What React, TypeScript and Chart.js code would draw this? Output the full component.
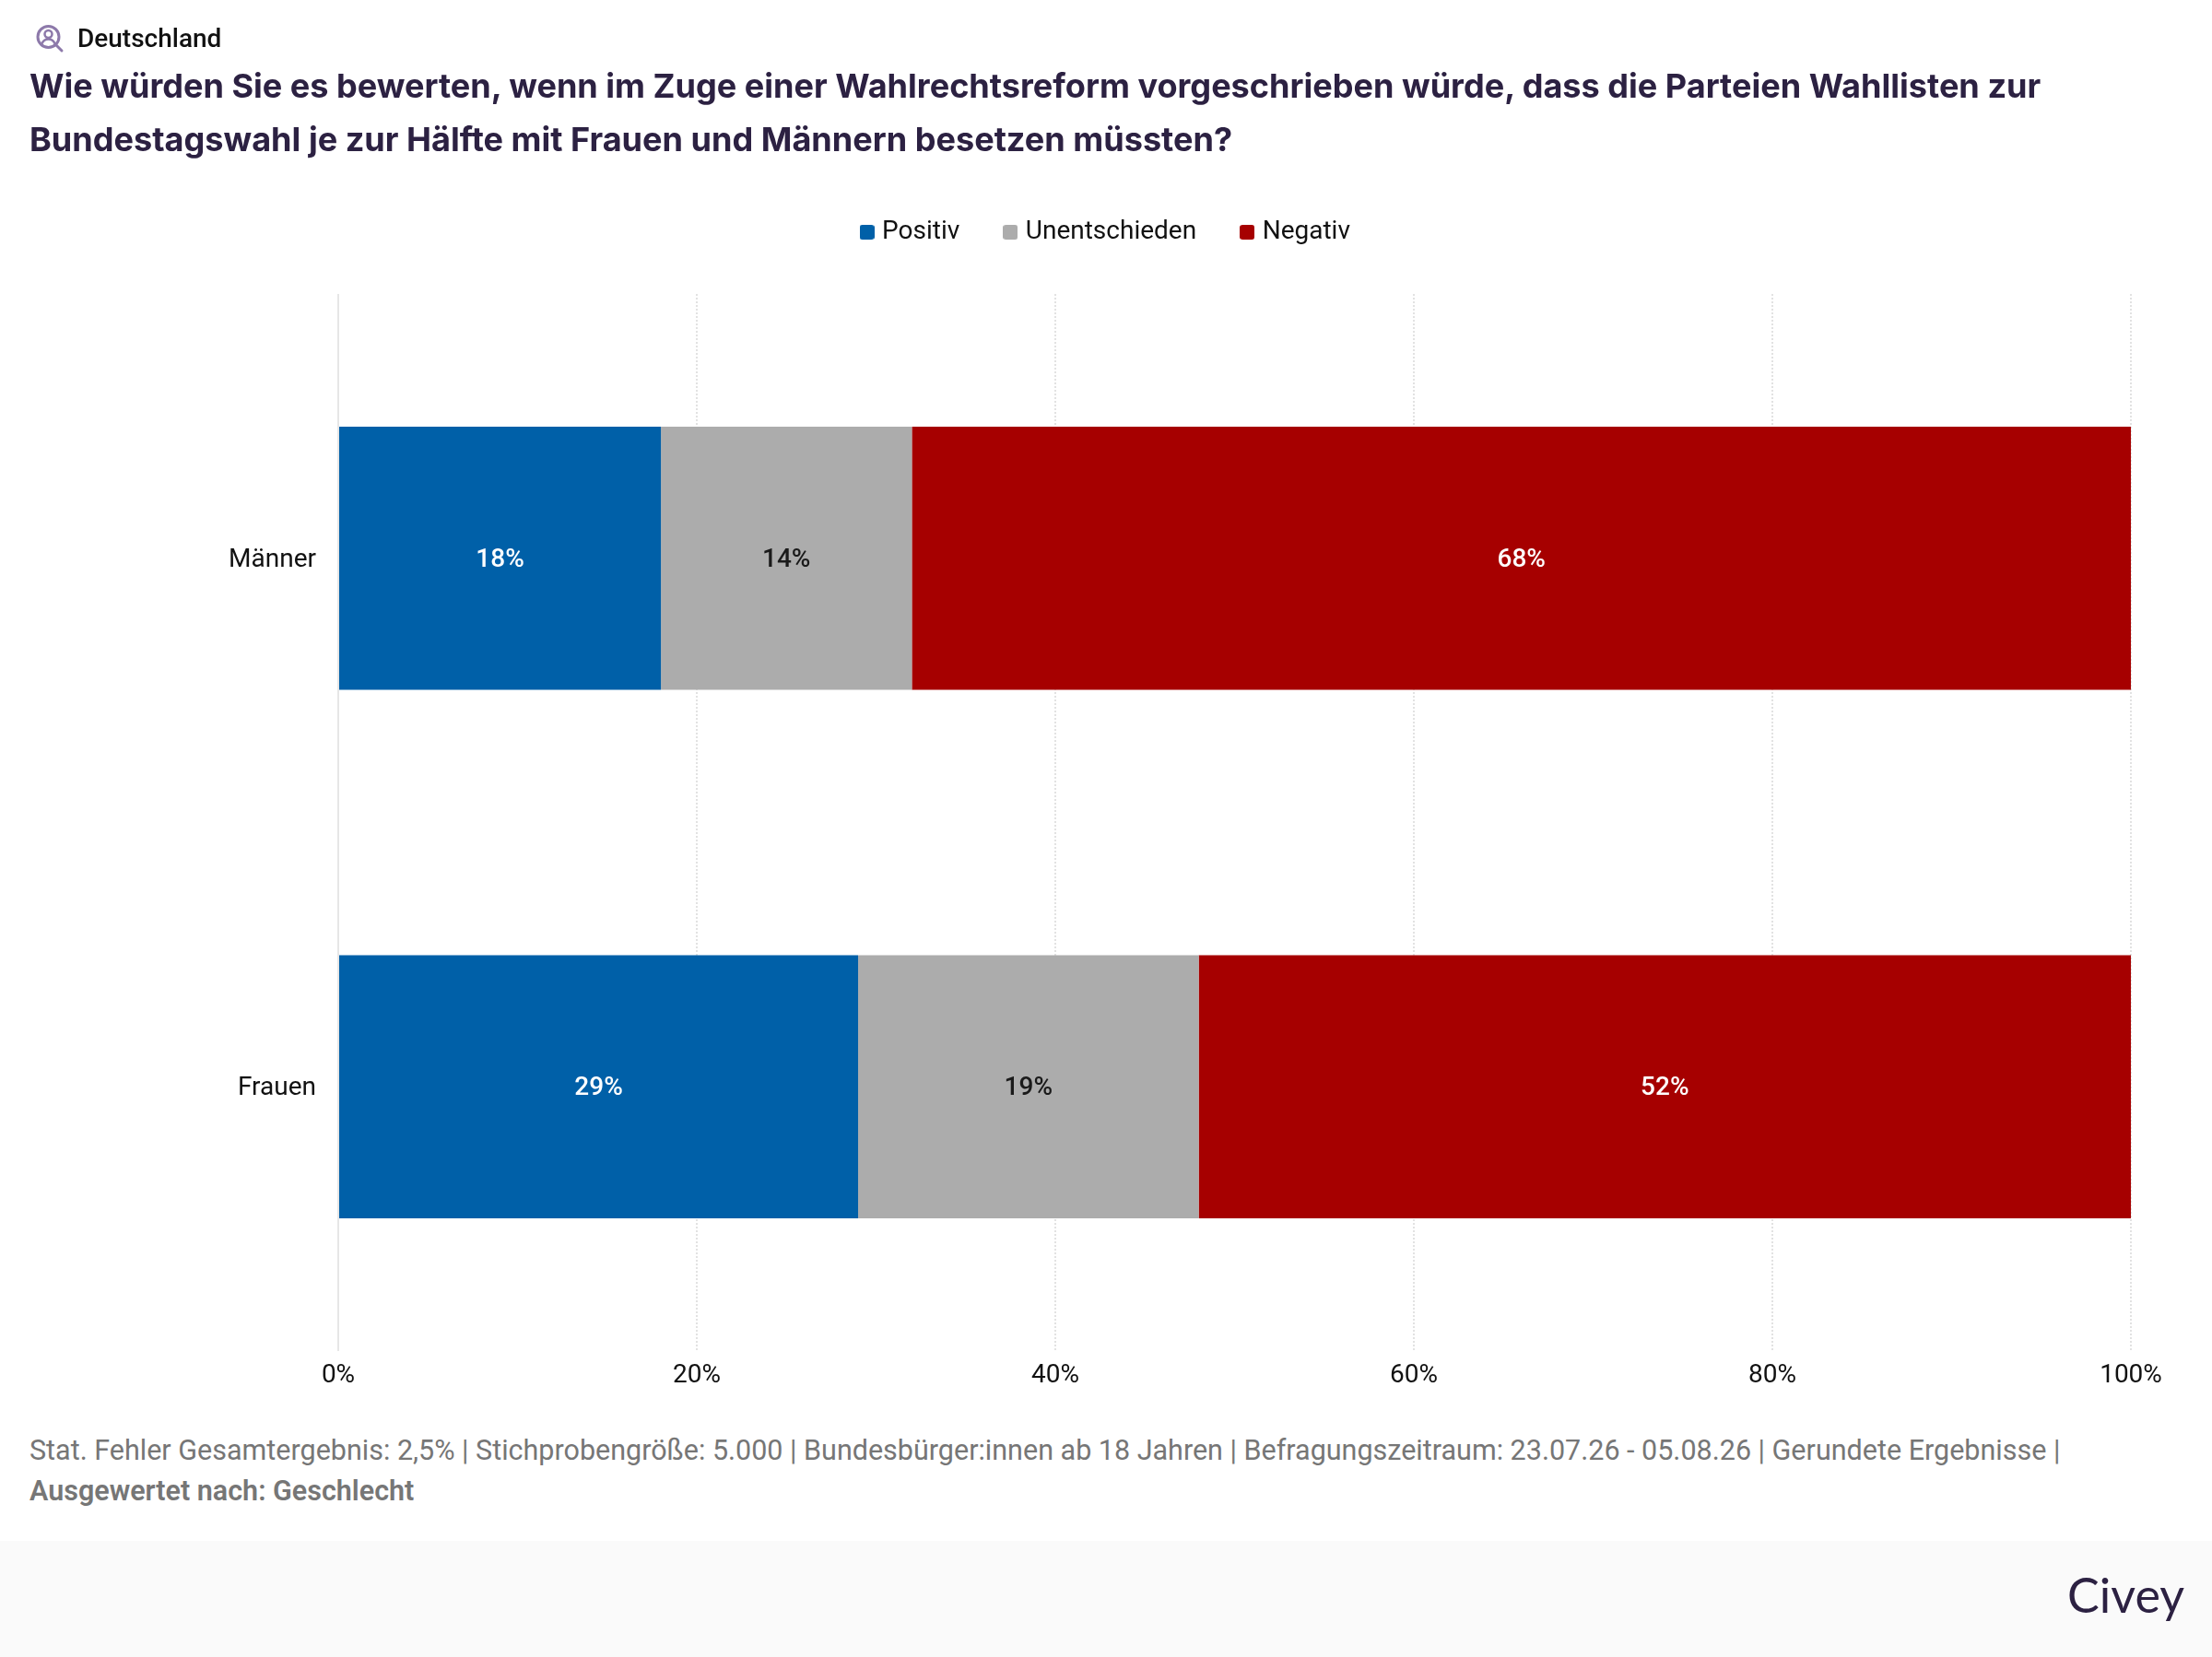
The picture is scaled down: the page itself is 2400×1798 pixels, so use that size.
import React, { useEffect, useRef } from 'react';
import { Chart, registerables } from 'chart.js';

Chart.register(...registerables);

const categories = ['Männer', 'Frauen'];
const positiv = [18, 29];
const unentschieden = [14, 19];
const negativ = [68, 52];
const seriesNames = ['Positiv', 'Unentschieden', 'Negativ'];
const seriesColors = ['#0060a8', '#acacac', '#a60000'];
const labelColors = ['#ffffff', '#1a1a1a', '#ffffff'];
const percentTicks = [0, 20, 40, 60, 80, 100];

const roboto = 'Roboto, sans-serif';
const textDark = '#111111';

// little rounded square for the legend, chart.js' rectRounded is too round
const legendSwatch = (color: string) => {
  const c = document.createElement('canvas');
  c.width = 16;
  c.height = 16;
  const ctx = c.getContext('2d');
  if (ctx) {
    ctx.fillStyle = color;
    ctx.beginPath();
    ctx.roundRect(0, 0, 16, 16, 3);
    ctx.fill();
  }
  return c;
};

const barValuesPlugin = {
  id: 'barValues',
  afterDatasetsDraw(chart: any) {
    const { ctx } = chart;
    ctx.save();
    ctx.font = `500 28px ${roboto}`;
    ctx.textAlign = 'center';
    ctx.textBaseline = 'middle';
    chart.data.datasets.forEach((ds: any, i: number) => {
      ctx.fillStyle = labelColors[i];
      chart.getDatasetMeta(i).data.forEach((bar: any, j: number) => {
        const { x, y, base } = bar.getProps(['x', 'y', 'base'], true);
        ctx.fillText(`${ds.data[j]}%`, (x + base) / 2, y + 2);
      });
    });
    ctx.restore();
  },
};

// legend box height decides where the plot starts, and the legend is centred on the whole canvas
const legendBoxPlugin = {
  id: 'legendBox',
  beforeInit(chart: any) {
    const legend = chart.legend;
    const fit = legend.fit;
    legend.fit = function () {
      fit.call(this);
      this.height = 133.5;
    };
  },
  afterLayout(chart: any) {
    chart.legend.left = 3;
    chart.legend.right = chart.width;
  },
};

const App: React.FC = () => {
  const canvasRef = useRef<HTMLCanvasElement>(null);
  const chartRef = useRef<Chart | null>(null);

  useEffect(() => {
    if (!canvasRef.current) return;
    chartRef.current = new Chart(canvasRef.current, {
      type: 'bar',
      data: {
        labels: categories,
        datasets: [positiv, unentschieden, negativ].map((values, i) => ({
          label: seriesNames[i],
          data: values,
          backgroundColor: seriesColors[i],
          borderWidth: 0,
          barPercentage: 0.498,
          categoryPercentage: 1,
        })),
      },
      options: {
        indexAxis: 'y',
        responsive: false,
        animation: false,
        devicePixelRatio: 1,
        layout: { padding: { top: 185.5, right: 88, bottom: 0, left: 0 } },
        scales: {
          x: {
            stacked: true,
            min: 0,
            max: 100,
            afterBuildTicks: (scale: any) => {
              scale.ticks = percentTicks.map((value) => ({ value }));
            },
            afterFit: (scale: any) => {
              scale.height = 54;
            },
            grid: {
              color: (c: any) => (c.tick && c.tick.value === 0 ? '#e6e6e6' : '#e2e2e2'),
              lineWidth: 2,
              drawTicks: false,
            },
            border: {
              display: false,
              dash: (c: any) => (c.tick && c.tick.value === 0 ? [] : [2, 2]),
            },
            ticks: {
              padding: 10,
              color: textDark,
              font: { family: roboto, size: 28 },
              maxRotation: 0,
              callback: (v: any) => `${v}%`,
            },
          },
          y: {
            stacked: true,
            afterFit: (scale: any) => {
              scale.width = 367;
            },
            grid: { display: false, drawTicks: false },
            border: { display: false },
            ticks: {
              padding: 24,
              labelOffset: 2,
              color: textDark,
              font: { family: roboto, size: 28 },
            },
          },
        },
        plugins: {
          tooltip: { enabled: false },
          legend: {
            position: 'top',
            align: 'center',
            labels: {
              usePointStyle: true,
              pointStyleWidth: 5,
              boxHeight: 16,
              padding: 52.5,
              color: textDark,
              font: { family: roboto, size: 28 },
              generateLabels: () =>
                seriesNames.map((text, i) => ({
                  text,
                  datasetIndex: i,
                  fontColor: textDark,
                  pointStyle: legendSwatch(seriesColors[i]),
                })),
            },
          },
        },
      } as any,
      plugins: [barValuesPlugin, legendBoxPlugin],
    });

    return () => {
      if (chartRef.current) {
        chartRef.current.destroy();
      }
    };
  }, []);

  return (
    <div style={{ position: 'absolute', left: 0, top: 0, width: 2400, height: 1798, overflow: 'hidden', background: '#ffffff', fontFamily: roboto }}>
      <canvas ref={canvasRef} width={2400} height={1520} style={{ position: 'absolute', left: 0, top: 0 }} />

      {/* Header */}
      <svg width="32" height="32" viewBox="0 0 32 32" style={{ position: 'absolute', left: 38, top: 26 }} fill="none" stroke="#8d79aa" strokeWidth="3">
        <circle cx="14.5" cy="14" r="11.5" />
        <circle cx="14.5" cy="11" r="4" strokeWidth="2.5" />
        <path d="M7.5 21.5c1.5-4 4-5 7-5s5.500 1 7 5" strokeWidth="2.500" />
        <path d="M23 23l6 6" strokeLinecap="round" />
      </svg>
      <div style={{ position: 'absolute', left: 84, top: 26, fontSize: 28, lineHeight: '32px', fontWeight: 500, color: textDark }}>Deutschland</div>
      <div style={{ position: 'absolute', left: 32, top: 64, fontFamily: 'Inter, sans-serif', fontSize: 36.1, lineHeight: '58px', fontWeight: 700, color: '#2c2142', whiteSpace: 'nowrap' }}>
        Wie würden Sie es bewerten, wenn im Zuge einer Wahlrechtsreform vorgeschrieben würde, dass die Parteien Wahllisten zur
        <br />
        Bundestagswahl je zur Hälfte mit Frauen und Männern besetzen müssten?
      </div>

      {/* Footnote */}
      <div style={{ position: 'absolute', left: 32, top: 1552, fontSize: 30.5, lineHeight: '44px', color: '#767676', whiteSpace: 'nowrap' }}>
        Stat. Fehler Gesamtergebnis: 2,5% | Stichprobengröße: 5.000 | Bundesbürger:innen ab 18 Jahren | Befragungszeitraum: 23.07.26 - 05.08.26 | Gerundete Ergebnisse |
        <br />
        <span style={{ fontWeight: 600 }}>Ausgewertet nach: Geschlecht</span>
      </div>

      {/* Footer */}
      <div style={{ position: 'absolute', left: 0, top: 1672, width: 2400, height: 126, background: '#fafafa' }} />
      <div style={{ position: 'absolute', right: 30, top: 1698, fontFamily: 'Lato, sans-serif', fontSize: 52, lineHeight: '64px', color: '#2c2142' }}>Civey</div>
    </div>
  );
};

export default App;
